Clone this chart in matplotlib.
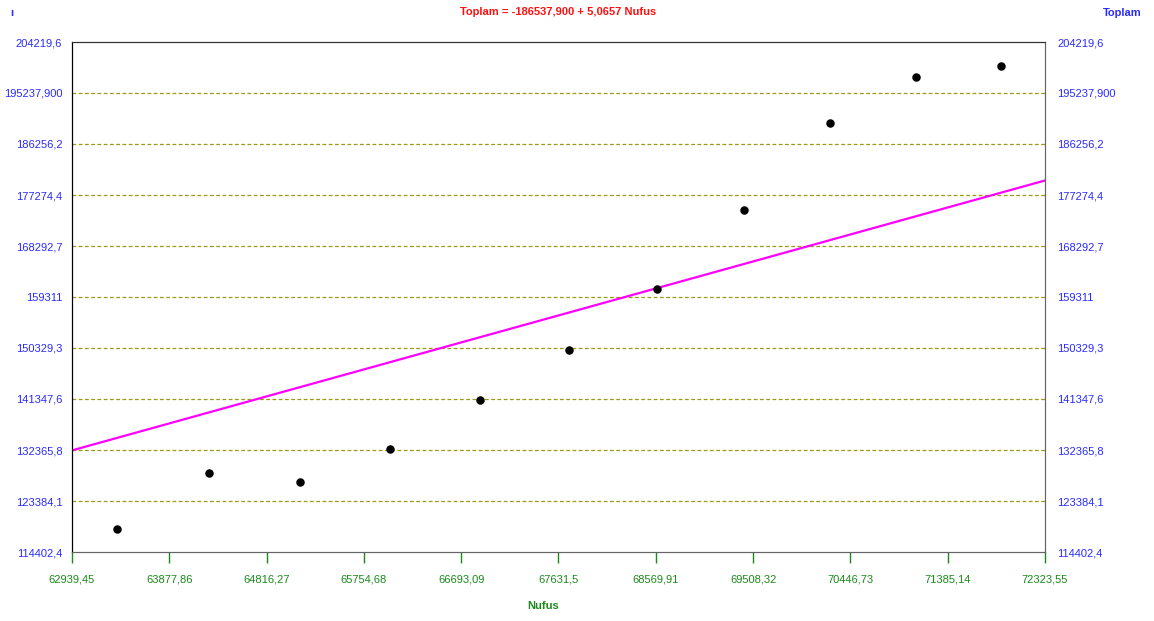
import matplotlib.pyplot as plt
import numpy as np

# data
nufus = [63373, 64261, 65138, 66006, 66874, 67733, 68581, 69420, 70250, 71080, 71899]
toplam = [118453, 128315, 126731, 132542, 141172, 149978, 160720, 174632, 189955, 198056, 199993]
intercept = -186537.9
slope = 5.0657

x_ticks = [62939.45, 63877.86, 64816.27, 65754.68, 66693.09, 67631.5,
           68569.91, 69508.32, 70446.73, 71385.14, 72323.55]
x_labels = ['62939,45', '63877,86', '64816,27', '65754,68', '66693,09', '67631,5',
            '68569,91', '69508,32', '70446,73', '71385,14', '72323,55']
y_ticks = [114402.4, 123384.1, 132365.8, 141347.6, 150329.3, 159311.0,
           168292.7, 177274.4, 186256.2, 195237.9, 204219.6]
y_labels = ['114402,4', '123384,1', '132365,8', '141347,6', '150329,3', '159311',
            '168292,7', '177274,4', '186256,2', '195237,900', '204219,6']

plt.rcParams['font.family'] = ['Liberation Sans', 'DejaVu Sans']
blue = '#2a2aff'
green = '#1a8a1a'
fs = 8

fig = plt.figure(figsize=(11.54, 6.21), dpi=100)
ax = fig.add_axes([72 / 1154, 69 / 621, 973 / 1154, 510 / 621])
ax.set_xlim(x_ticks[0], x_ticks[-1])
ax.set_ylim(y_ticks[0], y_ticks[-1])

# grid lines (inner only)
for yv in y_ticks[1:-1]:
    ax.axhline(yv, color='#9a9a10', linestyle=(0, (3, 2)), linewidth=0.9, zorder=1)

xs = np.array([x_ticks[0], x_ticks[-1]])
ax.plot(xs, intercept + slope * xs, color='#ff00ff', linewidth=1.6, zorder=2)
ax.scatter(nufus, toplam, s=26, color='black', zorder=3)

ax.set_xticks(x_ticks)
ax.set_xticklabels(x_labels, color=green, fontsize=fs)
ax.tick_params(axis='x', colors=green, length=8, width=1, pad=8)

ax.set_yticks(y_ticks)
ax.set_yticklabels(y_labels, color=blue, fontsize=fs)
ax.tick_params(axis='y', length=0, pad=7)

ax2 = ax.twinx()
ax2.set_ylim(ax.get_ylim())
ax2.set_yticks(y_ticks)
ax2.set_yticklabels(y_labels, color=blue, fontsize=fs)
ax2.tick_params(axis='y', length=0, pad=9)

for a in (ax, ax2):
    a.spines['left'].set_color('black')
    a.spines['top'].set_color('#333333')
    a.spines['right'].set_color('#666666')
    a.spines['bottom'].set_color('#666666')

fig.text(558 / 1154, 1 - 12 / 621, 'Toplam = -186537,900 + 5,0657 Nufus', color='#ff1010',
         fontsize=fs, fontweight='bold', ha='center', va='center')
fig.text(1122 / 1154, 1 - 13 / 621, 'Toplam', color=blue, fontsize=fs,
         fontweight='bold', ha='center', va='center')
fig.text(12 / 1154, 1 - 13 / 621, 'ı', color=blue, fontsize=fs,
         fontweight='bold', ha='center', va='center')
fig.text(543 / 1154, 1 - 606 / 621, 'Nufus', color=green, fontsize=fs,
         fontweight='bold', ha='center', va='center')

fig.savefig('out.png', dpi=100)
